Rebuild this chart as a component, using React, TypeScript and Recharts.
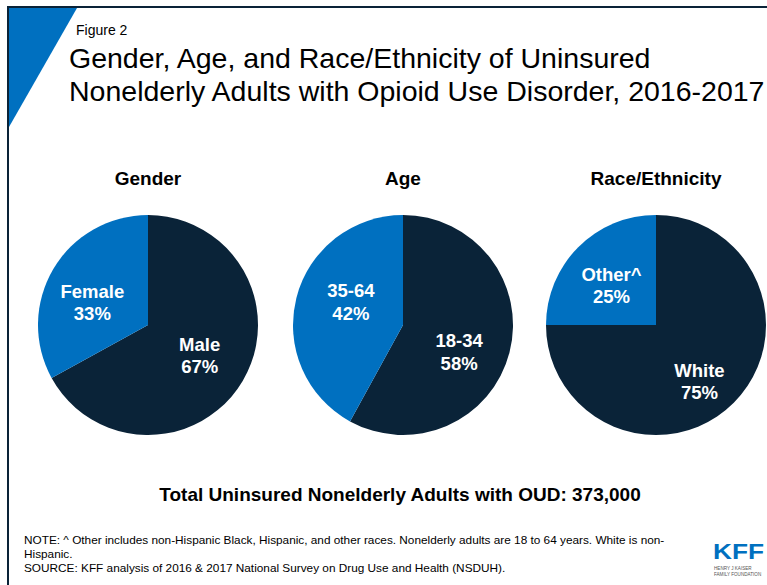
import { PieChart, Pie, Cell } from 'recharts'

const DARK = '#0a2338'
const BLUE = '#0070c0'

const genderNames = ['Male', 'Female']
const genderValues = [67, 33]
const ageNames = ['18-34', '35-64']
const ageValues = [58, 42]
const raceNames = ['White', 'Other^']
const raceValues = [75, 25]

const panelTitles = ['Gender', 'Age', 'Race/Ethnicity']
const panelCenters = [148, 403, 656]

const toRows = (names: string[], values: number[]) =>
  names.map((name, i) => ({ name, value: values[i] }))

const panels = [
  toRows(genderNames, genderValues),
  toRows(ageNames, ageValues),
  toRows(raceNames, raceValues),
]

// small hand nudges so labels sit where the original (PowerPoint best-fit) put them
const labelNudge: Record<string, [number, number]> = {
  Female: [-4, 8],
  '18-34': [-2, 12],
  '35-64': [6, -8],
  White: [1, 14],
  'Other^': [-2, 3],
}

const RAD = Math.PI / 180
const FONT = 'Arial, "Liberation Sans", sans-serif'

function SliceLabel(props: any) {
  const { cx, cy, midAngle, name, value } = props
  const r = 60
  const [nx, ny] = labelNudge[name] || [0, 0]
  const x = cx + r * Math.cos(-midAngle * RAD) + nx
  const y = cy + r * Math.sin(-midAngle * RAD) + ny
  return (
    <text x={x} y={y} fill="#fff" textAnchor="middle" fontFamily={FONT} fontWeight="bold" fontSize={18.5}>
      <tspan x={x} y={y - 4.6}>{name}</tspan>
      <tspan x={x} y={y + 17.9}>{`${value}%`}</tspan>
    </text>
  )
}

export default function App() {
  return (
    <div style={{ position: 'absolute', left: 0, top: 0, width: 767, height: 585, background: '#fff', overflow: 'hidden' }}>
      <PieChart width={767} height={585} margin={{ top: 0, right: 0, bottom: 0, left: 0 }}>
        {/* frame + corner triangle */}
        <rect x={8} y={7} width={800} height={600} fill="none" stroke={DARK} strokeWidth={2} />
        <polygon points="9,8 77,8 9,127" fill={BLUE} />
        <text x={76} y={35} fontFamily={FONT} fontSize={14} fill="#000">Figure 2</text>
        <text x={69} y={68} fontFamily={FONT} fontSize={28.5} fill="#000">Gender, Age, and Race/Ethnicity of Uninsured</text>
        <text x={69} y={101} fontFamily={FONT} fontSize={28.5} fill="#000">Nonelderly Adults with Opioid Use Disorder, 2016-2017</text>

        {panelTitles.map((t, i) => (
          <text key={t} x={panelCenters[i]} y={185} textAnchor="middle" fontFamily={FONT} fontWeight="bold" fontSize={19} fill="#000">{t}</text>
        ))}

        {panels.map((rows, i) => (
          <Pie
            key={i}
            data={rows}
            dataKey="value"
            nameKey="name"
            cx={panelCenters[i]}
            cy={325}
            outerRadius={110}
            startAngle={90}
            endAngle={-270}
            stroke="none"
            label={SliceLabel}
            labelLine={false}
            isAnimationActive={false}
          >
            {rows.map((_, j) => (
              <Cell key={j} fill={j === 0 ? DARK : BLUE} />
            ))}
          </Pie>
        ))}

        <text x={400} y={501} textAnchor="middle" fontFamily={FONT} fontWeight="bold" fontSize={19} fill="#000">
          Total Uninsured Nonelderly Adults with OUD: 373,000
        </text>

        <text fontFamily={FONT} fontSize={11.8} fill="#000">
          <tspan x={24} y={544}>NOTE: ^ Other includes non-Hispanic Black, Hispanic, and other races. Nonelderly adults are 18 to 64 years. White is non-</tspan>
          <tspan x={24} y={558}>Hispanic.</tspan>
          <tspan x={24} y={572}>SOURCE: KFF analysis of 2016 &amp; 2017 National Survey on Drug Use and Health (NSDUH).</tspan>
        </text>

        <text x={713} y={559} fontFamily={FONT} fontWeight="bold" fontSize={22} fill={BLUE} textLength={51} lengthAdjust="spacingAndGlyphs">KFF</text>
        <text x={714} y={570} fontFamily={FONT} fontSize={4.6} fill="#555">HENRY J KAISER</text>
        <text x={714} y={576} fontFamily={FONT} fontSize={4.6} fill="#555">FAMILY FOUNDATION</text>
      </PieChart>
    </div>
  )
}
